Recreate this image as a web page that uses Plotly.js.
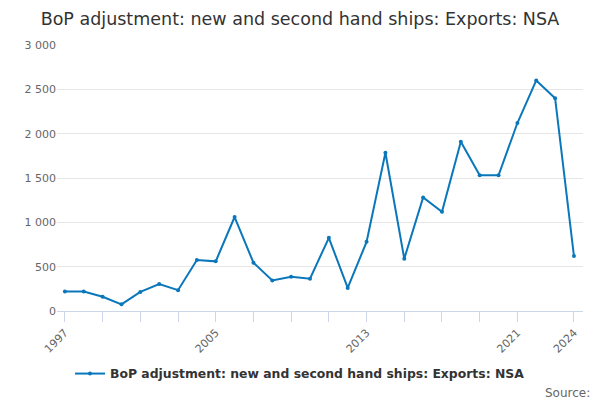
<!DOCTYPE html>
<html>
<head>
<meta charset="utf-8">
<script src="https://cdn.plot.ly/plotly-3.0.1.min.js"></script>
<style>html,body{margin:0;padding:0;background:#fff}#chart{width:600px;height:400px}</style>
</head>
<body>
<div id="chart"></div>
<script>
const years = [1997,1998,1999,2000,2001,2002,2003,2004,2005,2006,2007,2008,2009,2010,2011,2012,2013,2014,2015,2016,2017,2018,2019,2020,2021,2022,2023,2024];
const values = [220,220,160,75,215,305,235,575,560,1060,545,345,385,365,825,260,780,1785,590,1280,1120,1910,1530,1530,2120,2600,2400,620];
const tickYears = [1997,1999,2001,2003,2005,2007,2009,2011,2013,2015,2017,2019,2021,2024];
const tickLabels = ['1997','','','','2005','','','','2013','','','','2021','2024'];
const yTicks = [0,500,1000,1500,2000,2500,3000];
const yTickLabels = ['0','500','1 000','1 500','2 000','2 500','3 000'];
const seriesName = 'BoP adjustment: new and second hand ships: Exports: NSA';

const trace = {
  x: years, y: values, type: 'scatter', mode: 'lines+markers',
  name: seriesName,
  line: {color: '#0a77bb', width: 2},
  marker: {color: '#0a77bb', size: 4}
};
const layout = {
  width: 600, height: 400,
  margin: {l: 57, r: 17, t: 45, b: 89},
  paper_bgcolor: '#fff', plot_bgcolor: '#fff',
  font: {family: 'DejaVu Sans, Verdana, sans-serif', color: '#666', size: 11},
  title: {text: seriesName, x: 0.5, xanchor: 'center', y: 0.953, yanchor: 'middle',
          font: {size: 17.5, color: '#333', family: 'DejaVu Sans, sans-serif'}},
  xaxis: {
    range: [1996.58, 2024.48], automargin: false,
    tickmode: 'array', tickvals: tickYears, ticktext: tickLabels,
    tickangle: -45, ticks: 'outside', ticklen: 10, tickcolor: '#ccd6eb',
    showline: true, linecolor: '#ccd6eb', linewidth: 1,
    showgrid: false, zeroline: false,
    tickfont: {size: 11, color: '#666'}
  },
  yaxis: {
    range: [0, 3000], automargin: false,
    tickmode: 'array', tickvals: yTicks, ticktext: yTickLabels,
    showgrid: true, gridcolor: '#e6e6e6', zeroline: false, showline: false,
    ticks: '',
    tickfont: {size: 11, color: '#666'}
  },
  showlegend: true,
  legend: {orientation: 'h', xref: 'container', yref: 'container', x: 0.5, xanchor: 'center',
           y: 0.065, yanchor: 'middle',
           font: {size: 12.4, color: '#333', weight: 'bold'}},
  annotations: [{text: 'Source:', xref: 'paper', yref: 'paper', x: 1.017, xanchor: 'right',
                 y: -0.275, yanchor: 'top', showarrow: false, font: {size: 12, color: '#666'}}]
};
Plotly.newPlot('chart', [trace], layout, {displayModeBar: false, staticPlot: true});
</script>
</body>
</html>
